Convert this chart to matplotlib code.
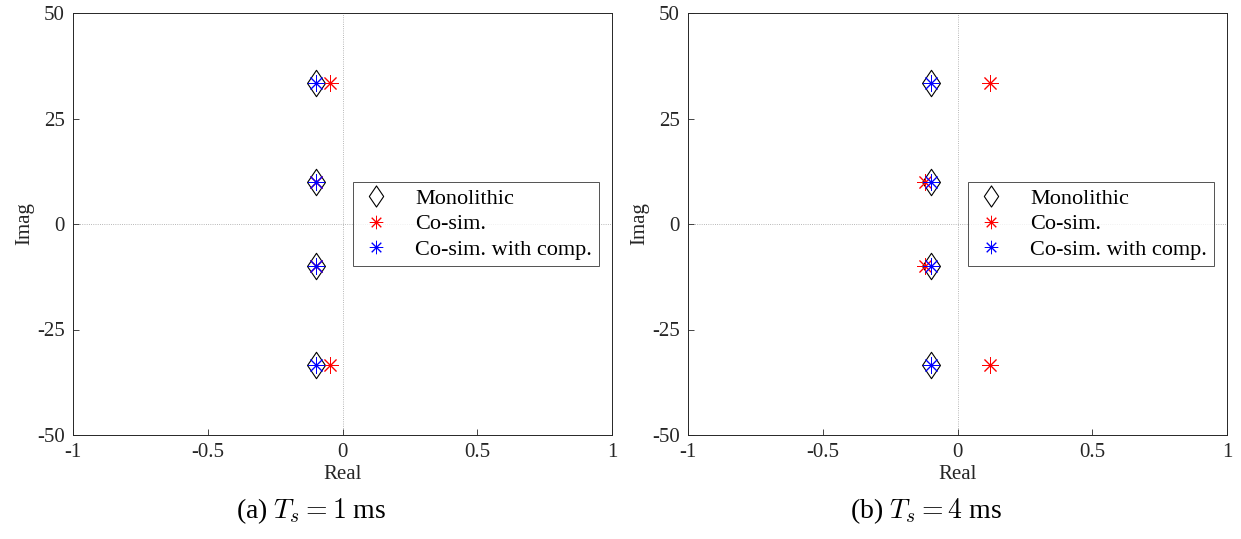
import numpy as np
import matplotlib.pyplot as plt
from matplotlib.path import Path

plt.rcParams['font.family'] = ['Liberation Serif', 'DejaVu Serif']
plt.rcParams['mathtext.fontset'] = 'cm'

# poles: monolithic, co-sim, co-sim with compensation
mono_re = [-0.1, -0.1, -0.1, -0.1]
mono_im = [33.3, 10.0, -10.0, -33.3]

cosim_a_re = [-0.045, -0.1, -0.1, -0.045]
cosim_a_im = [33.3, 10.0, -10.0, -33.3]
comp_a_re = [-0.1, -0.1, -0.1, -0.1]
comp_a_im = [33.3, 10.0, -10.0, -33.3]

cosim_b_re = [0.12, -0.12, -0.12, 0.12]
cosim_b_im = [33.3, 10.0, -10.0, -33.3]
comp_b_re = [-0.1, -0.1, -0.1, -0.1]
comp_b_im = [33.3, 10.0, -10.0, -33.3]

captions = ['(a) $T_s = 1$ ms', '(b) $T_s = 4$ ms']
caption_x = [311/1241, 926/1241]

fig = plt.figure(figsize=(12.41, 5.39), dpi=100)
ax1 = fig.add_axes([73/1241, 1-435/539, 539/1241, 422/539])
ax2 = fig.add_axes([688/1241, 1-435/539, 539/1241, 422/539])

panels = [(ax1, cosim_a_re, cosim_a_im, comp_a_re, comp_a_im),
          (ax2, cosim_b_re, cosim_b_im, comp_b_re, comp_b_im)]

star = (8, 2, 0)
# MATLAB-like diamond, a bit taller than wide
diamond = Path([(0, 1), (0.68, 0), (0, -1), (-0.68, 0), (0, 1)], closed=True)

for i, (ax, cr, ci, pr, pi) in enumerate(panels):
    ax.axhline(0, color='#a0a0a0', lw=0.6, ls=':', zorder=0)
    ax.axvline(0, color='#a0a0a0', lw=0.6, ls=':', zorder=0)
    ax.plot(mono_re, mono_im, marker=diamond, ms=19, mfc='none', mec='k',
            mew=0.8, ls='none', label='Monolithic')
    ax.plot(cr, ci, marker=star, ms=12, color='#ff0000', mew=0.7,
            ls='none', label='Co-sim.')
    ax.plot(pr, pi, marker=star, ms=12, color='#0000ff', mew=0.7,
            ls='none', label='Co-sim. with comp.')
    ax.set_xlim(-1, 1)
    ax.set_ylim(-50, 50)
    ax.set_xticks([-1, -0.5, 0, 0.5, 1])
    ax.set_xticklabels(['-1', '-0.5', '0', '0.5', '1'])
    ax.set_yticks([-50, -25, 0, 25, 50])
    ax.set_yticklabels(['-50', '-25', '0', '25', '50'])
    ax.tick_params(direction='in', length=4, labelsize=15, width=0.6,
                   colors='#262626', pad=6)
    for s in ax.spines.values():
        s.set_linewidth(0.7)
        s.set_color('#262626')
    ax.set_xlabel('Real', fontsize=15, color='#262626', labelpad=2)
    ax.set_ylabel('Imag', fontsize=15, color='#262626', labelpad=2)
    leg = ax.legend(loc='center right', fontsize=16, frameon=True, fancybox=False,
                    edgecolor='#262626', borderpad=0.3, handletextpad=1.0,
                    handlelength=1.5, labelspacing=0.22, borderaxespad=0.0,
                    bbox_to_anchor=(0.975, 0.5), markerscale=0.8)
    leg.get_frame().set_linewidth(0.7)
    fig.text(caption_x[i], 0.025, captions[i], ha='center', va='bottom',
             fontsize=20)

fig.savefig('out.png', dpi=100)
